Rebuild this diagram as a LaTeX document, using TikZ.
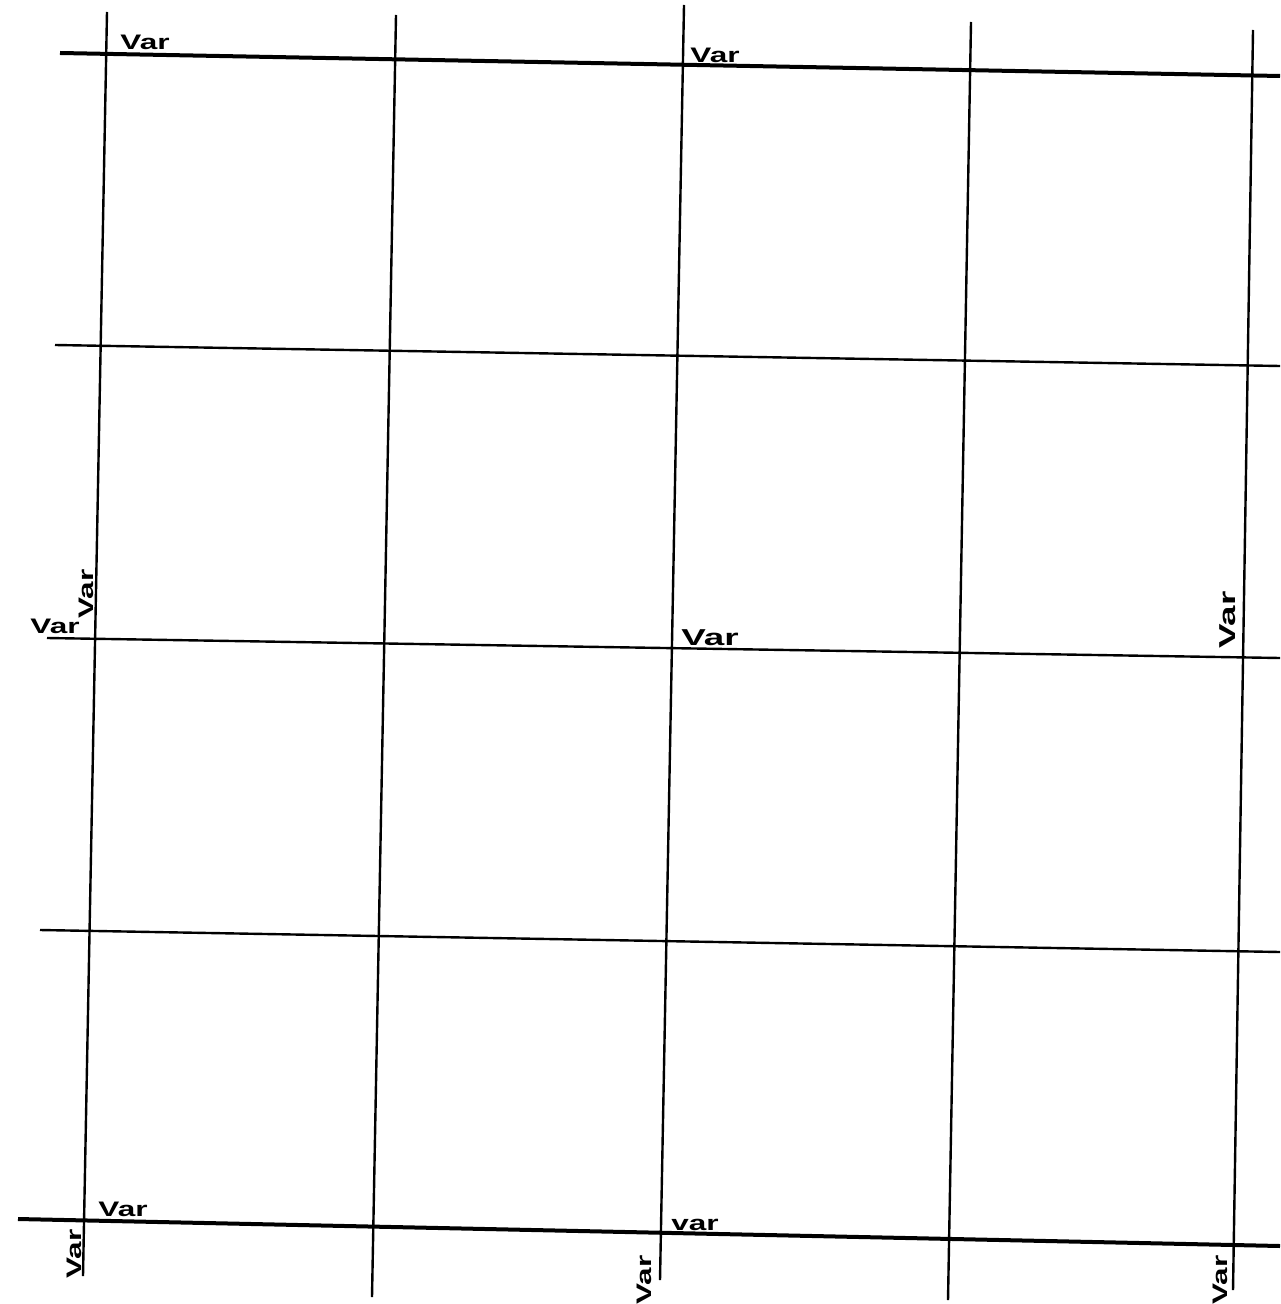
\documentclass[tikz,border=0pt]{standalone}
\usepackage{graphicx}
\usepackage{fontspec}
\setmainfont{Liberation Sans}
\newcommand\widevar[2][1.5]{\scalebox{#1}[1]{#2}}
\begin{document}
\begin{tikzpicture}[x=0.5pt,y=-0.5pt,
  gridline/.style={line width=1.2pt,black},
  heavyline/.style={line width=2pt,black},
  lbl/.style={font=\fontsize{10.5}{10.5}\selectfont\bfseries,inner sep=0pt},
  biglbl/.style={font=\fontsize{11.5}{11.5}\selectfont\bfseries,inner sep=0pt}]
\useasboundingbox (0,0) rectangle (1280,1304);
% horizontal line end points
\coordinate (h1a) at (60,53);   \coordinate (h1b) at (1280,76);
\coordinate (h2a) at (55,345);  \coordinate (h2b) at (1280,366);
\coordinate (h3a) at (47,638);  \coordinate (h3b) at (1280,658);
\coordinate (h4a) at (40,930);  \coordinate (h4b) at (1280,952);
\coordinate (h5a) at (18,1219); \coordinate (h5b) at (1280,1246);
% vertical line end points
\coordinate (v1a) at (107,12);  \coordinate (v1b) at (83,1276);
\coordinate (v2a) at (396,15);  \coordinate (v2b) at (372,1297);
\coordinate (v3a) at (684,5);   \coordinate (v3b) at (660,1280);
\coordinate (v4a) at (971,22);  \coordinate (v4b) at (948,1300);
\coordinate (v5a) at (1253,30); \coordinate (v5b) at (1233,1290);
% lines
\draw[heavyline] (h1a) -- (h1b);
\draw[gridline] (h2a) -- (h2b);
\draw[gridline] (h3a) -- (h3b);
\draw[gridline] (h4a) -- (h4b);
\draw[heavyline] (h5a) -- (h5b);
\draw[gridline] (v1a) -- (v1b);
\draw[gridline] (v2a) -- (v2b);
\draw[gridline] (v3a) -- (v3b);
\draw[gridline] (v4a) -- (v4b);
\draw[gridline] (v5a) -- (v5b);
% labels
\node[lbl] (l1) at (145,42) {\widevar{Var}};
\node[lbl] (l2) at (715,55) {\widevar{Var}};
\node[lbl] (l3) at (55,626) {\widevar{Var}};
\node[lbl,rotate=90] (l4) at (86,594) {\widevar{Var}};
\node[biglbl] (l5) at (710,638) {\widevar[1.6]{Var}};
\node[biglbl,rotate=90] (l6) at (1228,620) {\widevar[1.6]{Var}};
\node[lbl] (l7) at (123,1209) {\widevar{Var}};
\node[lbl,rotate=90] (l8) at (74,1254) {\widevar{Var}};
\node[lbl] (l9) at (695,1225) {\widevar{var}};
\node[lbl,rotate=90] (l10) at (644,1280) {\widevar{Var}};
\node[lbl,rotate=90] (l11) at (1220,1280) {\widevar{Var}};
\end{tikzpicture}
\end{document}
